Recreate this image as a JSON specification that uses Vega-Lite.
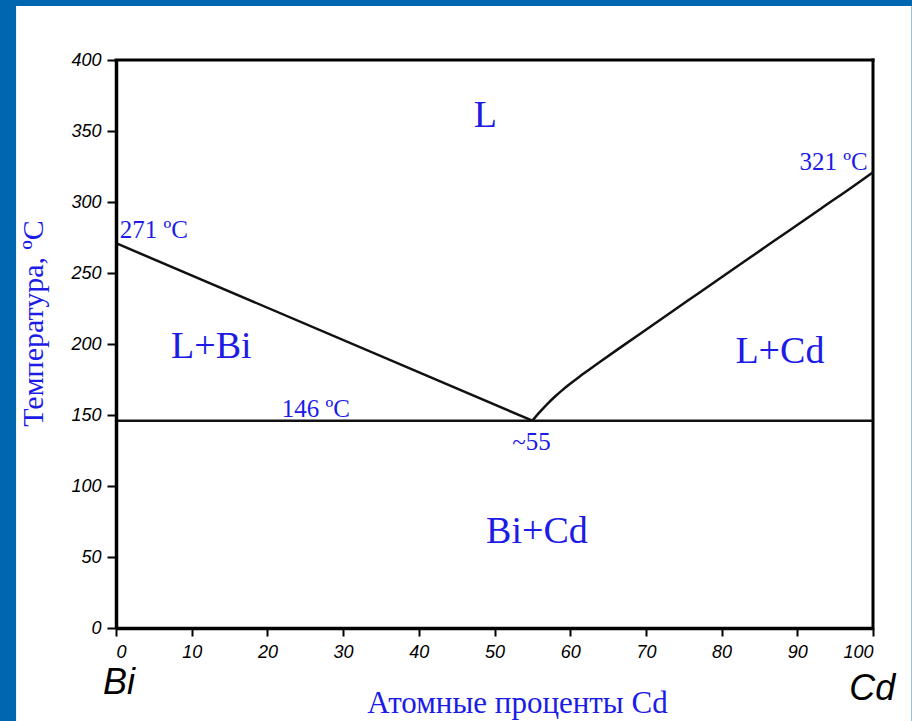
{
  "$schema": "https://vega.github.io/schema/vega-lite/v6.json",
  "width": 757,
  "height": 568,
  "autosize": "none",
  "padding": {"left": 116, "top": 60, "right": 39, "bottom": 93},
  "background": "#0066B0",
  "config": {
    "view": {"stroke": null, "fill": "white"},
    "axis": {"grid": false, "zindex": 1}
  },
  "datasets": {
    "panel": [{"panel": "slide"}],
    "lines": [
      {"seg": "left", "x": 0, "T": 271},
      {"seg": "left", "x": 55, "T": 146},
      {"seg": "right", "x": 55, "T": 146},
      {"seg": "right", "x": 56, "T": 152.2},
      {"seg": "right", "x": 57, "T": 157.9},
      {"seg": "right", "x": 58, "T": 163},
      {"seg": "right", "x": 59, "T": 167.7},
      {"seg": "right", "x": 60, "T": 172},
      {"seg": "right", "x": 61, "T": 176.1},
      {"seg": "right", "x": 62.3, "T": 181.2},
      {"seg": "right", "x": 64, "T": 187.7},
      {"seg": "right", "x": 66.7, "T": 197.8},
      {"seg": "right", "x": 71.1, "T": 214.1},
      {"seg": "right", "x": 75.5, "T": 230.4},
      {"seg": "right", "x": 79.9, "T": 246.7},
      {"seg": "right", "x": 84.3, "T": 262.9},
      {"seg": "right", "x": 88.7, "T": 279.1},
      {"seg": "right", "x": 93.1, "T": 295.3},
      {"seg": "right", "x": 97.5, "T": 311.5},
      {"seg": "right", "x": 100, "T": 321},
      {"seg": "eutectic", "x": 0, "T": 146},
      {"seg": "eutectic", "x": 100, "T": 146}
    ],
    "regions": [
      {"label": "L", "x": 48.8, "T": 353},
      {"label": "L+Bi", "x": 12.6, "T": 190},
      {"label": "L+Cd", "x": 87.7, "T": 186.4},
      {"label": "Bi+Cd", "x": 55.6, "T": 59.6}
    ],
    "temps": [
      {"label": "271 ºC", "x": 5.0, "T": 274.4},
      {"label": "321 ºC", "x": 94.8, "T": 322.5},
      {"label": "146 ºC", "x": 26.4, "T": 148.8},
      {"label": "~55", "x": 54.9, "T": 125.4}
    ],
    "ends": [
      {"label": "Bi", "x": 0.4, "T": -46.5},
      {"label": "Cd", "x": 99.9, "T": -50.7}
    ]
  },
  "layer": [
    {
      "data": {"name": "panel"},
      "mark": {"type": "rect", "color": "#ffffff", "opacity": 1, "clip": false},
      "encoding": {
        "x": {"datum": -13.2, "type": "quantitative", "scale": {"domain": [0, 100], "nice": false, "zero": false}},
        "x2": {"datum": 105.1},
        "y": {"datum": 438, "type": "quantitative", "scale": {"domain": [0, 400], "nice": false, "zero": false}},
        "y2": {"datum": -65.5}
      }
    },
    {
      "data": {"name": "panel"},
      "mark": {"type": "rule", "color": "#000000", "strokeWidth": 3, "strokeCap": "square"},
      "encoding": {
        "x": {"datum": 0, "type": "quantitative"},
        "x2": {"datum": 100},
        "y": {"datum": 400, "type": "quantitative"}
      }
    },
    {
      "data": {"name": "panel"},
      "mark": {"type": "rule", "color": "#000000", "strokeWidth": 3, "strokeCap": "square"},
      "encoding": {
        "x": {"datum": 100, "type": "quantitative"},
        "y": {"datum": 0, "type": "quantitative"},
        "y2": {"datum": 400}
      }
    },
    {
      "data": {"name": "lines"},
      "mark": {"type": "line", "color": "#111111", "strokeWidth": 2.5, "interpolate": "monotone"},
      "encoding": {
        "x": {
          "field": "x",
          "type": "quantitative",
          "scale": {"domain": [0, 100], "nice": false, "zero": false},
          "axis": {
            "zindex": 2,
            "values": [0, 10, 20, 30, 40, 50, 60, 70, 80, 90, 100],
            "title": "Атомные проценты Cd",
            "titleFont": "Liberation Serif",
            "titleFontSize": 31,
            "titleFontWeight": "normal",
            "titleColor": "#1C1CE6",
            "titleX": 401,
            "titleY": 84,
            "titleBaseline": "alphabetic",
            "titleAlign": "center",
            "labelFont": "Liberation Sans",
            "labelFontStyle": "italic",
            "labelFontSize": 18,
            "labelColor": "#000000",
            "labelPadding": 7,
            "tickSize": 8,
            "tickWidth": 2,
            "tickColor": "#000000",
            "domainColor": "#000000",
            "domainWidth": 3.5
          }
        },
        "y": {
          "field": "T",
          "type": "quantitative",
          "scale": {"domain": [0, 400], "nice": false, "zero": false},
          "axis": {
            "zindex": 2,
            "values": [0, 50, 100, 150, 200, 250, 300, 350, 400],
            "title": "Температура, ºC",
            "titleFont": "Liberation Serif",
            "titleFontSize": 30,
            "titleFontWeight": "normal",
            "titleColor": "#1C1CE6",
            "titleAngle": 270,
            "titleX": -74,
            "titleY": 263,
            "titleBaseline": "alphabetic",
            "titleAlign": "center",
            "labelFont": "Liberation Sans",
            "labelFontStyle": "italic",
            "labelFontSize": 18,
            "labelColor": "#000000",
            "labelPadding": 6,
            "tickSize": 9,
            "tickWidth": 2,
            "tickColor": "#000000",
            "domainColor": "#000000",
            "domainWidth": 3.5
          }
        },
        "detail": {"field": "seg"}
      }
    },
    {
      "data": {"name": "regions"},
      "mark": {"type": "text", "font": "Liberation Serif", "fontSize": 38, "color": "#1C1CE6", "align": "center", "baseline": "alphabetic"},
      "encoding": {
        "x": {"field": "x", "type": "quantitative"},
        "y": {"field": "T", "type": "quantitative"},
        "text": {"field": "label"}
      }
    },
    {
      "data": {"name": "temps"},
      "mark": {"type": "text", "font": "Liberation Serif", "fontSize": 25, "color": "#1C1CE6", "align": "center", "baseline": "alphabetic"},
      "encoding": {
        "x": {"field": "x", "type": "quantitative"},
        "y": {"field": "T", "type": "quantitative"},
        "text": {"field": "label"}
      }
    },
    {
      "data": {"name": "ends"},
      "mark": {"type": "text", "font": "Liberation Sans", "fontStyle": "italic", "fontSize": 36, "color": "#000000", "align": "center", "baseline": "alphabetic", "clip": false},
      "encoding": {
        "x": {"field": "x", "type": "quantitative"},
        "y": {"field": "T", "type": "quantitative"},
        "text": {"field": "label"}
      }
    }
  ]
}
